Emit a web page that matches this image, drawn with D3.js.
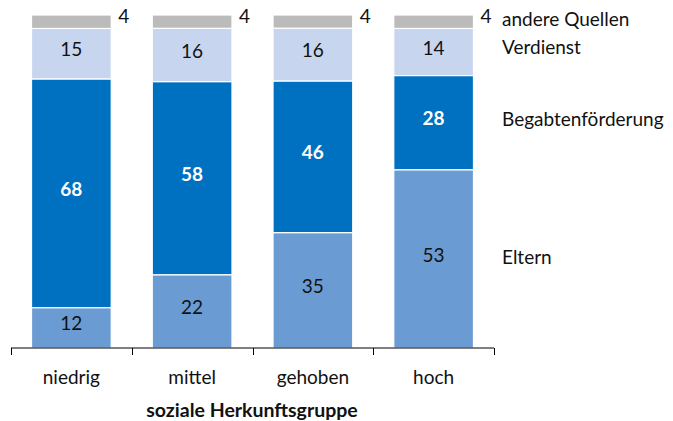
<!DOCTYPE html>
<html>
<head>
<meta charset="utf-8">
<script src="https://cdn.jsdelivr.net/npm/d3@7"></script>
<style>
  body { margin: 0; background: #fff; }
  text { font-family: Lato, "Open Sans", sans-serif; fill: #111; }
</style>
</head>
<body>
<svg id="chart" width="673" height="421"></svg>
<script>
var categories = ['niedrig', 'mittel', 'gehoben', 'hoch']
var seriesNames = ['Eltern', 'Begabtenförderung', 'Verdienst', 'andere Quellen']
var eltern = [12, 22, 35, 53]
var begabten = [68, 58, 46, 28]
var verdienst = [15, 16, 16, 14]
var andere = [4, 4, 4, 4]
var colors = ['#6a9bd3', '#0070c0', '#c7d5ee', '#bbbbbb']

var rows = categories.map((c, i) => ({
  cat: c,
  'Eltern': eltern[i],
  'Begabtenförderung': begabten[i],
  'Verdienst': verdienst[i],
  'andere Quellen': andere[i]
}))

var svg = d3.select('#chart')
var plotLeft = 11, plotRight = 494, plotBottom = 348, plotTop = 15
var fs = 19

var x = d3.scaleBand()
    .domain(categories)
    .range([plotLeft, plotRight])
    .paddingInner(0.34)
    .paddingOuter(0.17)

// 100% stacked
var y = d3.scaleLinear()
    .domain([0, 1])
    .range([plotBottom, plotTop])

var stacked = d3.stack()
    .keys(seriesNames)
    .offset(d3.stackOffsetExpand)(rows)

var layers = svg.append('g').selectAll('g')
    .data(stacked)
    .join('g')
    .attr('fill', (d, i) => colors[i])

layers.selectAll('rect')
    .data(d => d)
    .join('rect')
    .attr('x', d => x(d.data.cat))
    .attr('width', x.bandwidth())
    .attr('y', d => y(d[1]))
    .attr('height', d => y(d[0]) - y(d[1]))
    .attr('stroke', '#fff')
    .attr('stroke-width', 1.2)

// value labels
stacked.forEach((layer, li) => {
  var g = svg.append('g')
  layer.forEach(d => {
    var v = d.data[layer.key]
    if (li === 3) {
      g.append('text')
        .attr('x', x(d.data.cat) + x.bandwidth() + 7)
        .attr('y', y(d[1]) + 1)
        .attr('dy', '0.35em')
        .attr('font-size', fs)
        .text(v)
    } else {
      g.append('text')
        .attr('x', x(d.data.cat) + x.bandwidth() / 2)
        .attr('y', (y(d[0]) + y(d[1])) / 2 - 4)
        .attr('dy', '0.35em')
        .attr('text-anchor', 'middle')
        .attr('font-size', fs)
        .attr('font-weight', li === 1 ? 'bold' : 'normal')
        .style('fill', li === 1 ? '#fff' : '#111')
        .text(v)
    }
  })
})

// series labels at the last bar's segments
var last = categories.length - 1
var labelShift = [-2, -3, -5, -2]
stacked.forEach((layer, li) => {
  var d = layer[last]
  svg.append('text')
    .attr('x', 502)
    .attr('y', (y(d[0]) + y(d[1])) / 2 + labelShift[li])
    .attr('dy', '0.35em')
    .attr('font-size', fs)
    .text(layer.key)
})

// category axis, ticks between the bars
var axis = svg.append('g')
axis.append('line')
    .attr('x1', plotLeft).attr('x2', plotRight)
    .attr('y1', plotBottom).attr('y2', plotBottom)
    .attr('stroke', '#000')
d3.range(categories.length + 1).forEach(i => {
  var tx = Math.round(plotLeft + (plotRight - plotLeft) * i / categories.length) + 0.5
  axis.append('line')
    .attr('x1', tx).attr('x2', tx)
    .attr('y1', plotBottom).attr('y2', plotBottom + 7)
    .attr('stroke', '#000')
})
categories.forEach(c => {
  axis.append('text')
    .attr('x', x(c) + x.bandwidth() / 2)
    .attr('y', 377)
    .attr('dy', '0.35em')
    .attr('text-anchor', 'middle')
    .attr('font-size', fs)
    .text(c)
})

svg.append('text')
    .attr('x', 252)
    .attr('y', 410)
    .attr('dy', '0.35em')
    .attr('text-anchor', 'middle')
    .attr('font-size', 19.5)
    .attr('font-weight', 'bold')
    .text('soziale Herkunftsgruppe')
</script>
</body>
</html>
